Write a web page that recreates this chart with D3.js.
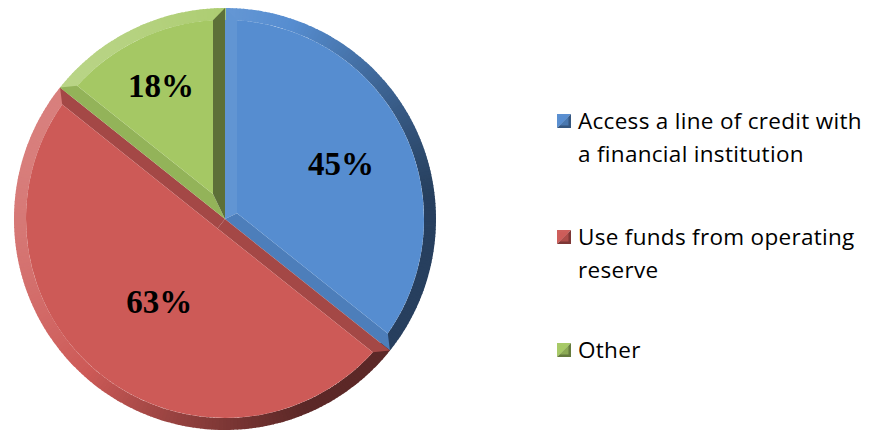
<!DOCTYPE html>
<html>
<head>
<meta charset="utf-8">
<script src="https://cdn.jsdelivr.net/npm/d3@7"></script>
<style>
  body { margin: 0; background: #fff; }
  svg { display: block; }
</style>
</head>
<body>
<script>
const categories = ["Access a line of credit with a financial institution", "Use funds from operating reserve", "Other"];
const legendLines = [["Access a line of credit with", "a financial institution"], ["Use funds from operating", "reserve"], ["Other"]];
const values = [45, 63, 18];
const labels = ["45%", "63%", "18%"];
const colors = ["#568dd0", "#cd5a57", "#a5c864"];

let width = 873, height = 433;
let cx = 225, cy = 219, r = 211, bevel = 12;
let labelRadius = [0.61, 0.5, 0.70];

let svg = d3.select("body").append("svg")
    .attr("width", width)
    .attr("height", height);

let pie = d3.pie().sort(null).value(d => d);
let arcs = pie(values);

// light from upper left
let L = [-0.862, -0.507];
let shade = (base, s) => s > 0
    ? d3.interpolateRgb(base, "#ffffff")(Math.min(s, 1) * 0.28)
    : d3.interpolateRgb(base, "#000000")(Math.min(-s, 1) * 0.55);
let pt = (a, rad) => [rad * Math.sin(a), -rad * Math.cos(a)];
let dir = a => [Math.sin(a), -Math.cos(a)];
let dot = (n) => n[0] * L[0] + n[1] * L[1];

let g = svg.append("g").attr("transform", "translate(" + cx + "," + cy + ")");

arcs.forEach((a, i) => {
    let base = colors[i];
    let sg = g.append("g");
    let a0 = a.startAngle, a1 = a.endAngle;
    let half = (a1 - a0) / 2;
    let ri = r - bevel;
    let delta = Math.asin(bevel / ri);
    let apex = pt(a0 + half, bevel / Math.sin(half));

    // rim, cut into thin pieces shaded by their normal
    let steps = Math.ceil((a1 - a0) / (Math.PI / 180));
    for (let k = 0; k < steps; k++) {
        let s0 = a0 + (a1 - a0) * k / steps, s1 = a0 + (a1 - a0) * (k + 1) / steps;
        let s = dot(dir((s0 + s1) / 2)) - 0.2;
        sg.append("path")
            .attr("d", d3.arc().innerRadius(ri).outerRadius(r).startAngle(s0).endAngle(s1 + 0.004)())
            .attr("fill", shade(base, s));
    }

    // straight edge facets
    let edge = (ae, ai, n) => {
        let p = d3.path();
        p.moveTo(0, 0);
        let po = pt(ae, r), pi = pt(ai, ri);
        p.lineTo(po[0], po[1]);
        p.lineTo(pi[0], pi[1]);
        p.lineTo(apex[0], apex[1]);
        p.closePath();
        sg.append("path")
            .attr("d", p.toString())
            .attr("fill", shade(base, dot(n) * 0.6 - 0.28));
    };
    edge(a0, a0 + delta, dir(a0 - Math.PI / 2));
    edge(a1, a1 - delta, dir(a1 + Math.PI / 2));

    // flat top face
    let f = d3.path();
    f.moveTo(apex[0], apex[1]);
    let q0 = pt(a0 + delta, ri);
    f.lineTo(q0[0], q0[1]);
    f.arc(0, 0, ri, a0 + delta - Math.PI / 2, a1 - delta - Math.PI / 2);
    f.closePath();
    sg.append("path")
        .attr("d", f.toString())
        .attr("fill", base);
});

// percentage labels
g.selectAll(".pct")
    .data(arcs)
    .join("text")
    .attr("class", "pct")
    .attr("transform", (d, i) => {
        let c = d3.arc().innerRadius(0).outerRadius(2 * r * labelRadius[i]).centroid(d);
        return "translate(" + c[0] + "," + c[1] + ")";
    })
    .attr("text-anchor", "middle")
    .attr("dy", "0.35em")
    .style("font-family", "'Liberation Serif', 'Times New Roman', serif")
    .style("font-weight", "bold")
    .style("font-size", "33px")
    .attr("fill", "#000")
    .text((d, i) => labels[i]);

// legend
let legendTop = [121, 237, 350];
let legend = svg.append("g").attr("transform", "translate(557,0)");
categories.forEach((c, i) => {
    let lg = legend.append("g").attr("transform", "translate(0," + legendTop[i] + ")");
    let s = 14;
    lg.append("path")
        .attr("d", "M0," + (-s / 2) + "h" + s + "L0," + (s / 2) + "Z")
        .attr("fill", shade(colors[i], 0.1));
    lg.append("path")
        .attr("d", "M" + s + "," + (-s / 2) + "V" + (s / 2) + "H0Z")
        .attr("fill", shade(colors[i], -0.7));
    lg.append("rect")
        .attr("x", 2.5).attr("y", -s / 2 + 2.5)
        .attr("width", s - 5).attr("height", s - 5)
        .attr("fill", colors[i]).attr("opacity", 0.6);
    legendLines[i].forEach((t, j) => {
        lg.append("text")
            .attr("x", 21)
            .attr("y", j * 33)
            .attr("dy", "0.35em")
            .style("font-family", "'Open Sans', sans-serif")
            .style("font-size", "22.5px")
            .style("letter-spacing", "0.3px")
            .attr("fill", "#000")
            .text(t);
    });
});
</script>
</body>
</html>
